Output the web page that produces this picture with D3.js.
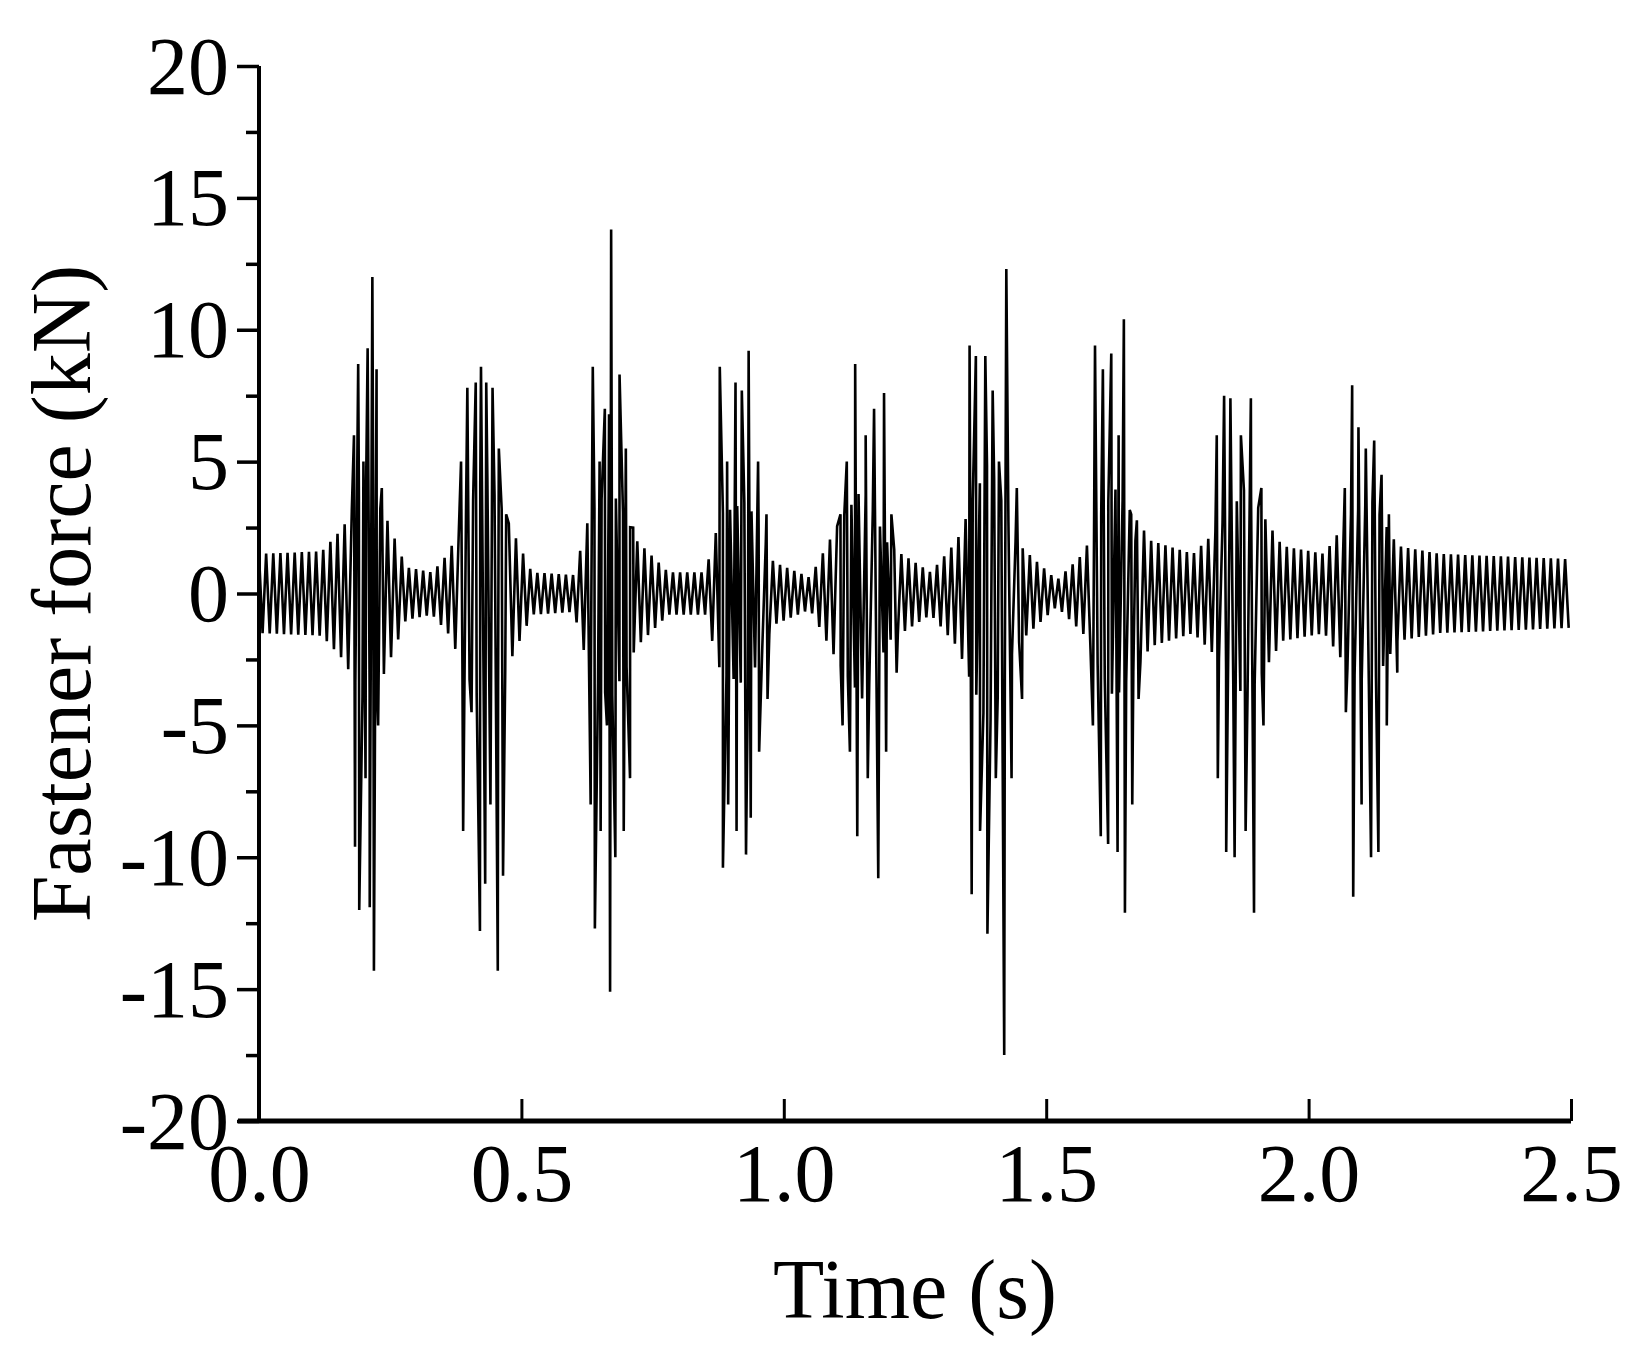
<!DOCTYPE html>
<html><head><meta charset="utf-8">
<script src="https://cdn.jsdelivr.net/npm/d3@7"></script>
<style>body{margin:0;background:#fff}</style></head>
<body><svg id="c" width="1626" height="1357"></svg>
<script>
const xTicks=[0,0.5,1.0,1.5,2.0,2.5];
const yTicks=[-20,-15,-10,-5,0,5,10,15,20];
// background oscillation envelope (kN amplitude)
const envT=[0,0.12,0.16,0.2,0.24,0.28,0.33,0.36,0.43,0.48,0.52,0.6,0.63,0.67,0.72,0.78,0.85,0.88,0.93,0.98,1.05,1.1,1.15,1.2,1.28,1.33,1.39,1.44,1.52,1.57,1.63,1.7,1.78,1.83,1.88,1.95,2.03,2.08,2.12,2.17,2.25,2.5];
const envA=[1.5,1.6,2.5,4,3,1.0,0.8,1.5,4.5,2.5,0.8,0.7,3,4,2,0.8,0.8,3,3.5,1.2,0.6,2.5,4,1.8,0.8,2,5,2,0.5,1.5,4,2,1.5,2.5,4,1.8,1.5,3,3.5,1.8,1.5,1.3];
// large spikes [time s, force kN]
const spikes=[
[0.181,6],[0.183,-9.6],[0.189,8.7],[0.191,-12],[0.199,5],[0.203,-7],[0.207,9.3],[0.211,-11.9],[0.216,12.0],[0.219,-14.3],[0.224,8.5],[0.227,-5],[0.234,4],[0.238,-3],
[0.385,5],[0.389,-9],[0.397,7.8],[0.405,-4.5],[0.413,8.0],[0.421,-12.8],[0.423,8.6],[0.431,-11],[0.433,8.0],[0.441,-8],[0.445,7.8],[0.455,-14.3],[0.457,5.5],[0.465,-10.7],[0.471,3],
[0.632,-8.0],[0.636,8.6],[0.640,-12.7],[0.649,5],[0.651,-9],[0.659,7],[0.663,-5],[0.667,6.8],[0.669,-15.1],[0.671,13.8],[0.679,-10],[0.687,8.3],[0.695,-9.0],[0.699,5.5],[0.707,-7],[0.713,2.5],
[0.878,8.6],[0.884,-10.4],[0.892,5],[0.894,-8],[0.908,8],[0.910,-9],[0.920,7.7],[0.928,-9.9],[0.933,9.2],[0.937,-8.5],[0.951,5],[0.953,-6],[0.967,3],[0.969,-4],
[1.108,3],[1.112,-5],[1.120,5],[1.126,-6],[1.136,8.7],[1.140,-9.2],[1.156,6],[1.160,-7],[1.172,7],[1.180,-10.8],[1.191,7.6],[1.195,-6],[1.205,3],[1.215,-3],
[1.354,9.4],[1.358,-11.4],[1.366,9.0],[1.374,-9],[1.384,9.0],[1.388,-12.9],[1.398,7.7],[1.404,-7],[1.410,5],[1.420,-17.5],[1.424,12.3],[1.434,-7],[1.444,4],[1.454,-4],
[1.589,-5],[1.593,9.4],[1.604,-9.2],[1.608,8.5],[1.618,-9.5],[1.624,9.1],[1.636,-9.8],[1.638,6],[1.648,10.4],[1.650,-12.1],[1.662,3],[1.664,-8],[1.670,2],[1.676,-4],
[1.825,6],[1.827,-7],[1.839,7.5],[1.843,-9.8],[1.851,7.4],[1.859,-10],[1.871,6.0],[1.880,-9],[1.890,7.4],[1.896,-12.1],[1.910,4],[1.914,-5],
[2.069,4],[2.071,-4.5],[2.083,7.9],[2.085,-11.5],[2.095,6.3],[2.101,-8],[2.109,5.5],[2.119,-10],[2.125,5.8],[2.133,-9.8],[2.139,4.5],[2.149,-5],[2.153,3],[2.169,-3]
];
const halfPeriod=0.0068;

const svg=d3.select("#c");
const x=d3.scaleLinear().domain([0,2.5]).range([259,1571]);
const y=d3.scaleLinear().domain([-20,20]).range([1121,66]);
const env=d3.scaleLinear().domain(envT).range(envA);

let pts=[];
for(let i=0;i*halfPeriod<=2.5;i++){const t=i*halfPeriod;pts.push([t,(i%2?-1:1)*env(t)]);}
pts=pts.concat(spikes).sort((a,b)=>a[0]-b[0]);

svg.append("path").datum(pts).attr("fill","none").attr("stroke","#000").attr("stroke-width",2.6)
 .attr("d",d3.line().x(d=>x(d[0])).y(d=>y(d[1])));

const fmtY=d=>String(d).replace("\u2212","-");
// y axis
const ya=svg.append("g").attr("transform","translate(259,0)")
 .call(d3.axisLeft(y).tickValues(yTicks).tickSize(22).tickPadding(8).tickFormat(fmtY));
ya.append("g").call(d3.axisLeft(y).tickValues(d3.range(-17.5,20,5)).tickSize(13).tickFormat(""));
ya.selectAll("path.domain").remove();
ya.selectAll("line").attr("stroke-width",3.5);
ya.selectAll("text").attr("font-family","Liberation Serif").attr("font-size",82).attr("fill","#000").attr("dy","0.33em");
svg.append("line").attr("x1",259).attr("x2",259).attr("y1",y(20)).attr("y2",y(-20)+2).attr("stroke","#000").attr("stroke-width",4);

// x axis
const xa=svg.append("g").attr("transform","translate(0,1121)")
 .call(d3.axisBottom(x).tickValues(xTicks).tickSizeInner(-22).tickSizeOuter(0).tickPadding(22).tickFormat(d3.format(".1f")));
xa.selectAll("path.domain").remove();
xa.selectAll("line").attr("stroke-width",3);
xa.selectAll("text").attr("font-family","Liberation Serif").attr("font-size",82).attr("fill","#000");
svg.append("line").attr("x1",238).attr("x2",1571).attr("y1",1121).attr("y2",1121).attr("stroke","#000").attr("stroke-width",5);

svg.append("text").attr("x",x(1.25)).attr("y",1318).attr("text-anchor","middle")
 .attr("font-family","Liberation Serif").attr("font-size",84).text("Time (s)");
svg.append("text").attr("transform","translate(90,"+y(0)+") rotate(-90)").attr("text-anchor","middle")
 .attr("font-family","Liberation Serif").attr("font-size",84).text("Fastener force (kN)");
</script></body></html>
